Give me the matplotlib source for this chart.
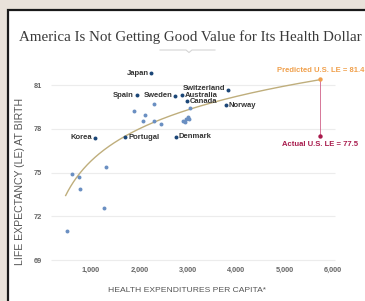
import numpy as np
import matplotlib
matplotlib.use("Agg")
import matplotlib.pyplot as plt
from matplotlib.patches import Rectangle
from matplotlib.lines import Line2D

# ---- data ----
labeled_names = ["Japan", "Spain", "Sweden", "Switzerland", "Australia",
                 "Canada", "Norway", "Korea", "Portugal", "Denmark"]
labeled_spend = [2250, 1944, 2736, 3837, 2886, 2990, 3783, 1083, 1709, 2750]
labeled_le = [81.8, 80.3, 80.27, 80.66, 80.29, 79.9, 79.63, 77.39, 77.41, 77.45]
label_side = ["left", "left", "left", "left", "right",
              "right", "right", "left", "right", "right"]

other_spend = [2302, 1882, 2116, 2081, 2302, 2440, 3045, 2900, 2960, 3000,
               2940, 3020, 1304, 614, 752, 779, 1269, 510]
other_le = [79.7, 79.2, 78.94, 78.53, 78.53, 78.33, 79.44, 78.55, 78.7, 78.8,
            78.5, 78.65, 75.4, 74.9, 74.67, 73.9, 72.6, 71.0]

us_spend = 5738
us_predicted = 81.4
us_actual = 77.5

# points
trend_x = [477, 1254, 1709, 2219, 3045, 3252, 5738]
trend_y = [73.4, 76.6, 77.5, 78.4, 79.4, 79.3, 81.45]

yticks = [69, 72, 75, 78, 81]
xticks = [1000, 2000, 3000, 4000, 5000, 6000]
xticklabels = ["1,000", "2,000", "3,000", "4,000", "5,000", "6,000"]

title = "America Is Not Getting Good Value for Its Health Dollar"
xlabel = "HEALTH EXPENDITURES PER CAPITA*"
ylabel = "LIFE EXPECTANCY (LE) AT BIRTH"

# ---- figure ----
W, H = 365, 301
fig = plt.figure(figsize=(W / 100, H / 100), dpi=100)
fig.patch.set_facecolor("#e9e2da")

# white panel with dark frame
panel = Rectangle((8 / W, -0.05), 1.1, 1 - 10 / H + 0.05, transform=fig.transFigure,
                  facecolor="white", edgecolor="#1a1a1a", linewidth=1.6, zorder=0)
fig.add_artist(panel)

sans = "Liberation Sans"

fig.text(19 / W, 1 - 37 / H, title, family="Liberation Serif", fontsize=10.8,
         color="#3a3a3a", ha="left", va="center")
# small decoration under the title
fig.add_artist(Line2D([160 / W, 186 / W, 189 / W, 192 / W, 215 / W],
                      [1 - 50 / H, 1 - 50 / H, 1 - 52.5 / H, 1 - 50 / H, 1 - 50 / H],
                      transform=fig.transFigure, color="#d5d5d5", lw=0.8))

ax = fig.add_axes([45 / W, 1 - 264.3 / H, (357.2 - 45) / W, (264.3 - 48.5) / H])
ax.set_xlim(50, 6500)
ax.set_ylim(68.72, 83.5)
ax.set_facecolor("none")
for s in ax.spines.values():
    s.set_visible(False)

ax.hlines(yticks, 180, 6040, color="#ececec", lw=0.8, zorder=0)

ax.set_yticks(yticks)
ax.set_yticklabels([str(v) for v in yticks])
ax.set_xticks(xticks)
ax.set_xticklabels(xticklabels)
ax.tick_params(length=0, labelsize=5.3, labelcolor="#666666", pad=2)
for lab in ax.get_xticklabels() + ax.get_yticklabels():
    lab.set_family(sans)
    lab.set_fontweight("bold")

# trend curve
coef = np.polyfit(np.log(trend_x), trend_y, 1)
xs = np.linspace(trend_x[0], trend_x[-1], 200)
ax.plot(xs, np.polyval(coef, np.log(xs)), color="#bfae7c", lw=1.0, zorder=1)

# US line
ax.plot([us_spend, us_spend], [us_actual, us_predicted], color="#d06088", lw=0.6, zorder=1)

ax.scatter(other_spend, other_le, s=8, color="#6a8fc2", zorder=3, linewidths=0)
ax.scatter(labeled_spend, labeled_le, s=8, color="#1b4677", zorder=4, linewidths=0)

for name, x, y, side in zip(labeled_names, labeled_spend, labeled_le, label_side):
    dy = 0
    if name == "Switzerland":
        dy = 1.2
    if side == "left":
        ax.annotate(name, (x, y), xytext=(-2, dy), textcoords="offset points",
                    ha="right", va="center", fontsize=5.5, fontweight="bold",
                    family=sans, color="#333333")
    else:
        ax.annotate(name, (x, y), xytext=(2, dy), textcoords="offset points",
                    ha="left", va="center", fontsize=5.5, fontweight="bold",
                    family=sans, color="#333333")

ax.scatter([us_spend], [us_predicted], s=10, color="#f0a04c", zorder=5, linewidths=0)
ax.scatter([us_spend], [us_actual], s=10, color="#a81a4c", zorder=5, linewidths=0)
ax.annotate("Predicted U.S. LE = 81.4", (us_spend, us_predicted), xytext=(0, 6.2),
            textcoords="offset points", ha="center", va="center", fontsize=5.5,
            fontweight="bold", family=sans, color="#f0a04c", annotation_clip=False)
ax.annotate("Actual U.S. LE = 77.5", (us_spend, us_actual), xytext=(0, -6),
            textcoords="offset points", ha="center", va="center", fontsize=5.5,
            fontweight="bold", family=sans, color="#a81a4c", annotation_clip=False)

fig.text(187 / W, 1 - 290 / H, xlabel, family=sans, fontsize=6.1, color="#555555",
         ha="center", va="center")
fig.text(20 / W, 1 - 181 / H, ylabel, family=sans, fontsize=7.6, color="#555555",
         ha="center", va="center", rotation=90)

fig.savefig("out.png", dpi=100, facecolor=fig.get_facecolor())
